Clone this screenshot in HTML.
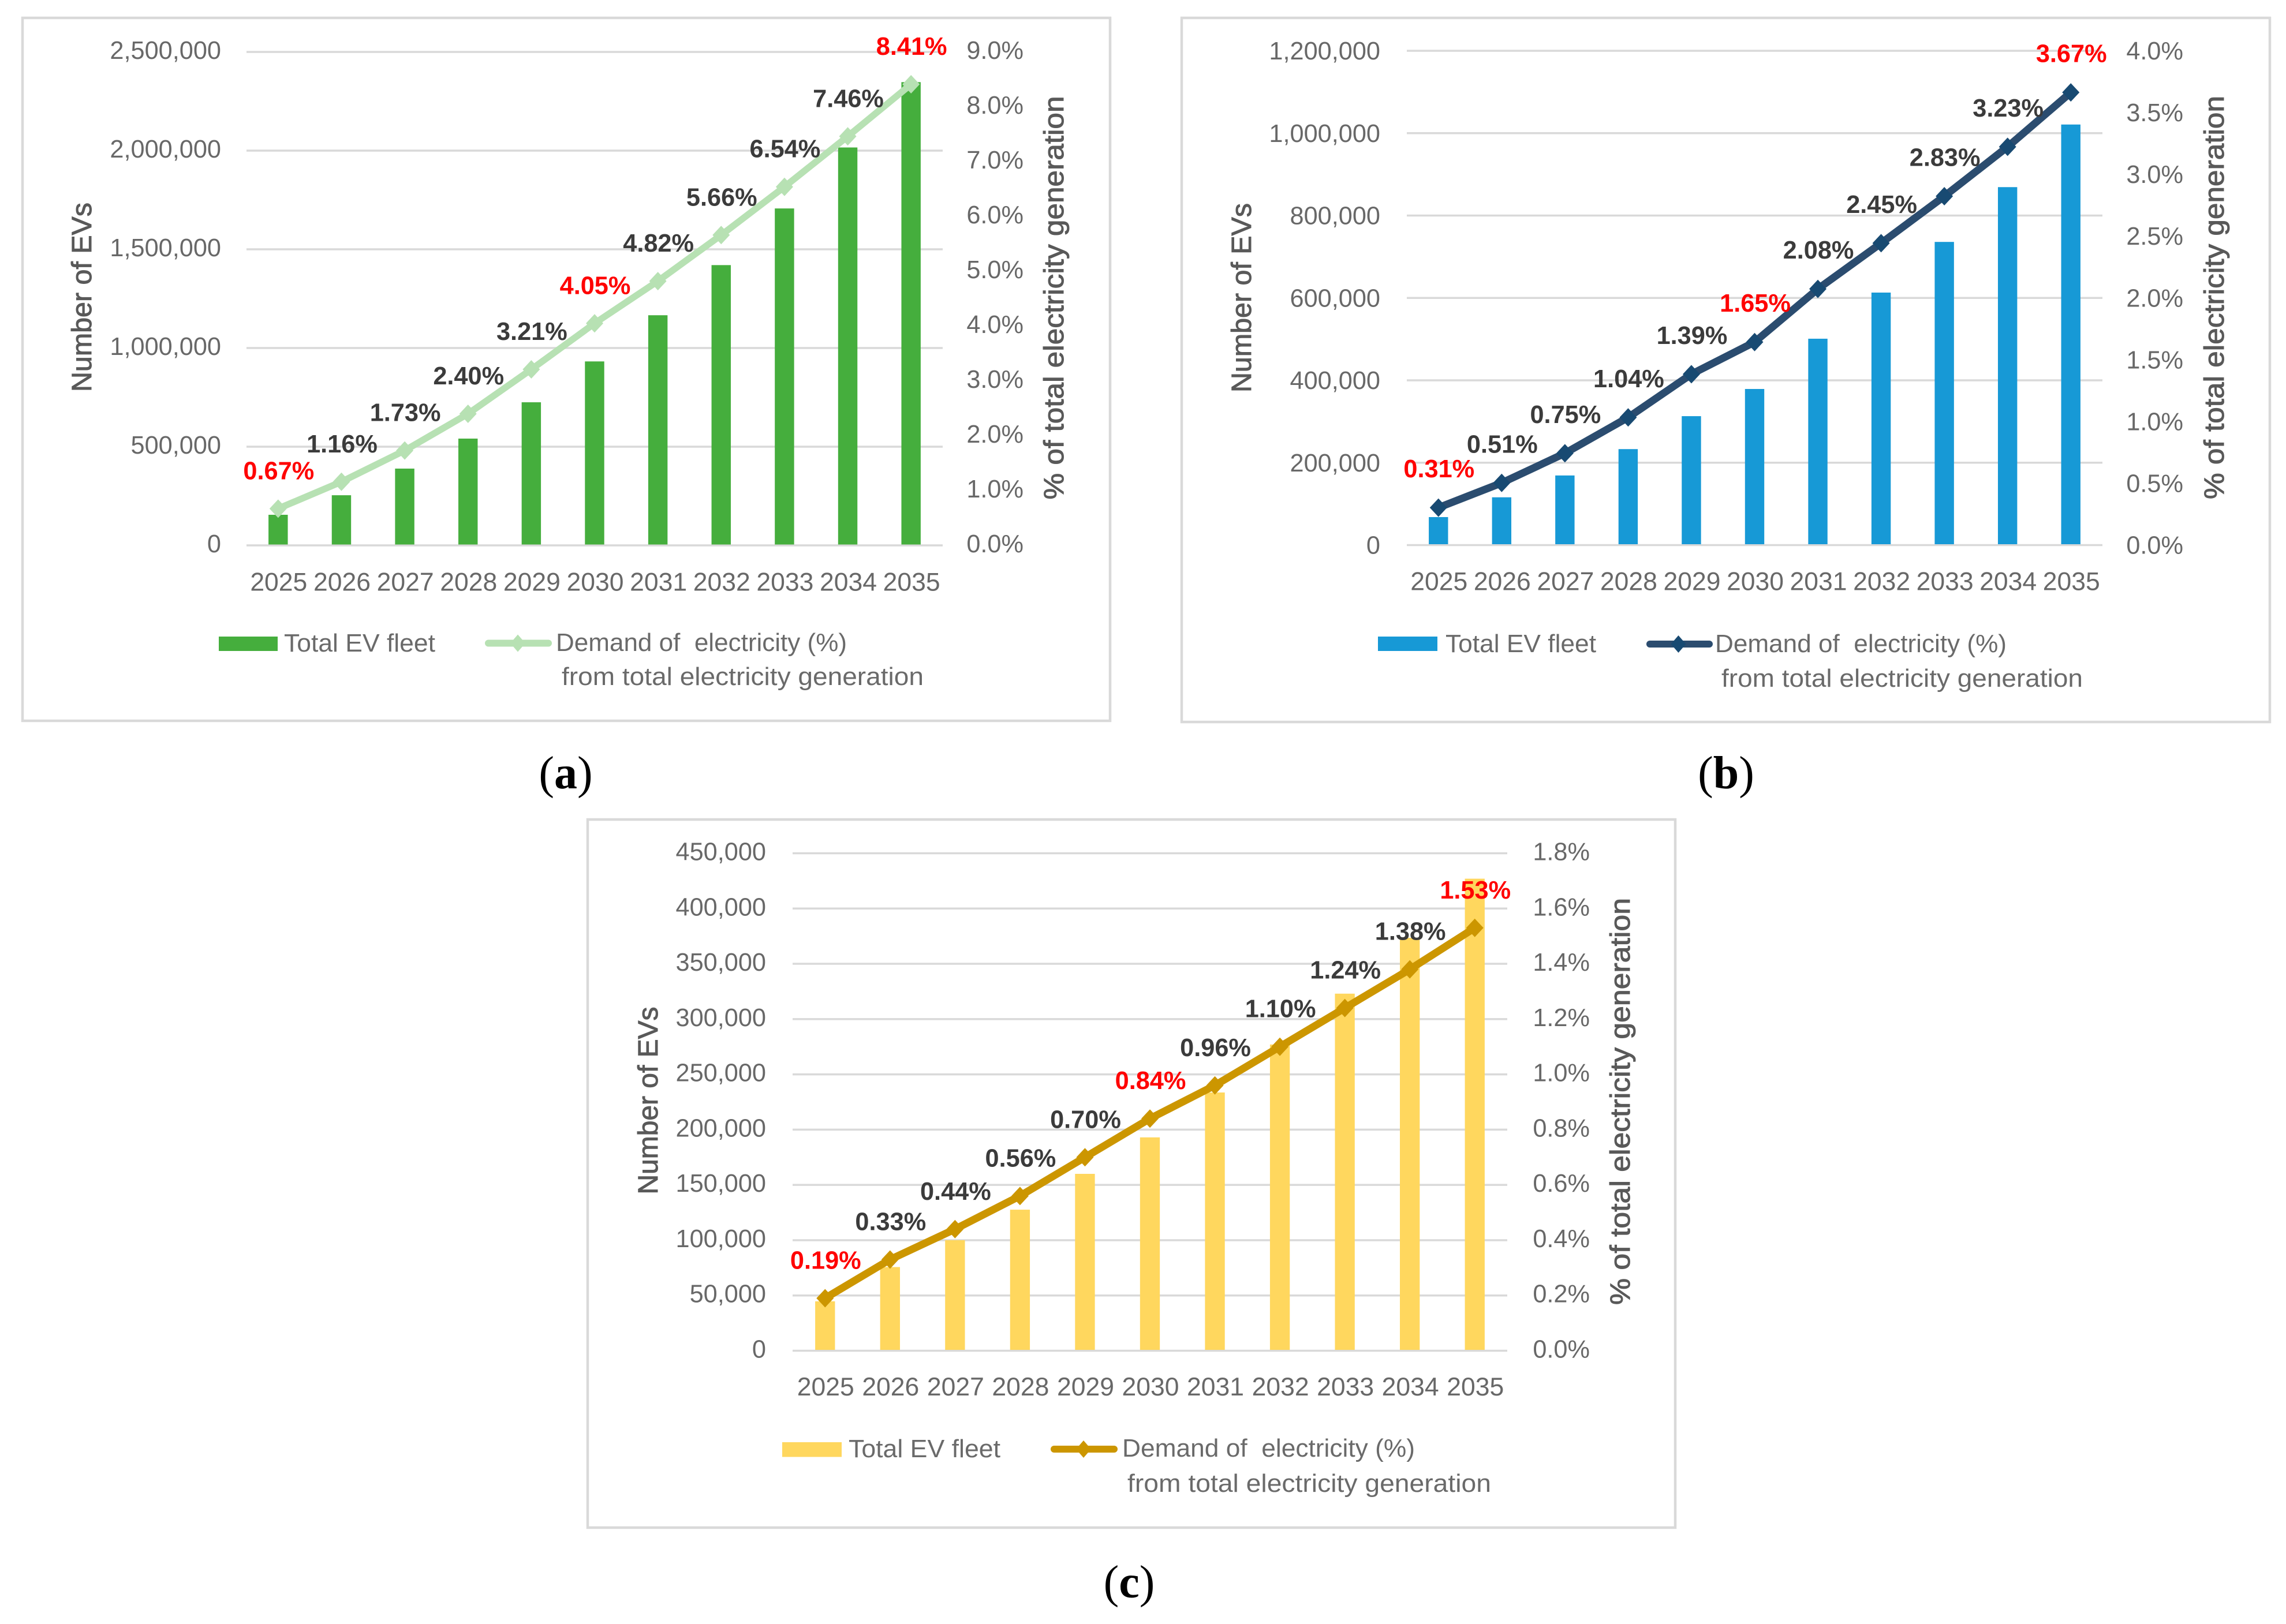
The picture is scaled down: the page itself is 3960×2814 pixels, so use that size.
<!DOCTYPE html>
<html lang="en">
<head>
<meta charset="utf-8">
<title>EV fleet and electricity demand scenarios</title>
<style>
html,body{margin:0;padding:0;background:#fff;}
svg{display:block;}
text{font-family:"Liberation Sans",sans-serif;}
.tick{font-size:43.3px;fill:#686868;}
.tick.year{font-size:44.5px;}
.data{font-size:43.3px;font-weight:bold;fill:#3b3b3b;}
.data.hot{fill:#ff0000;}
.title{font-size:48px;fill:#595959;stroke:#595959;stroke-width:1px;}
.legend{font-size:43.3px;fill:#6a6a6a;white-space:pre;}
.caption{font-family:"Liberation Serif",serif;font-size:80px;fill:#000;}
.caption tspan{font-weight:bold;}
.frame{fill:#fff;stroke:#d9d9d9;stroke-width:4.5;}
</style>
</head>
<body>
<svg id="figure" xmlns="http://www.w3.org/2000/svg" width="3960" height="2814" viewBox="0 0 3960 2814">
  <rect x="0" y="0" width="3960" height="2814" fill="#fff"/>

  <g id="panel-a">
    <rect class="frame" x="39" y="31" width="1884" height="1218"/>
    <g id="plot-a"></g>
    <text class="title" transform="translate(158,515) rotate(-90)" text-anchor="middle" textLength="328" lengthAdjust="spacingAndGlyphs">Number of EVs</text>
    <text class="title" transform="translate(1842,516) rotate(-90)" text-anchor="middle" textLength="699" lengthAdjust="spacingAndGlyphs">% of total electricity generation</text>
    <rect x="379" y="1103" width="102" height="25" fill="#45ae3d"/>
    <text class="legend" x="492" y="1129" textLength="262" lengthAdjust="spacingAndGlyphs">Total EV fleet</text>
    <line x1="846" y1="1114.5" x2="950" y2="1114.5" stroke="#b7e1b3" stroke-width="12" stroke-linecap="round"/>
    <polygon points="884,1114.5 897,1099.5 910,1114.5 897,1129.5" fill="#b7e1b3"/>
    <text class="legend" x="963" y="1128" textLength="504" lengthAdjust="spacingAndGlyphs" xml:space="preserve">Demand of  electricity (%)</text>
    <text class="legend" x="973" y="1187" textLength="627" lengthAdjust="spacingAndGlyphs">from total electricity generation</text>
  </g>
  <text class="caption" x="980" y="1366" text-anchor="middle">(<tspan>a</tspan>)</text>

  <g id="panel-b">
    <rect class="frame" x="2047" y="31" width="1885" height="1220"/>
    <g id="plot-b"></g>
    <text class="title" transform="translate(2167,516) rotate(-90)" text-anchor="middle" textLength="328" lengthAdjust="spacingAndGlyphs">Number of EVs</text>
    <text class="title" transform="translate(3852,515.5) rotate(-90)" text-anchor="middle" textLength="699" lengthAdjust="spacingAndGlyphs">% of total electricity generation</text>
    <rect x="2387" y="1103" width="103" height="25" fill="#1799d6"/>
    <text class="legend" x="2504" y="1130" textLength="261" lengthAdjust="spacingAndGlyphs">Total EV fleet</text>
    <line x1="2858" y1="1116" x2="2961" y2="1116" stroke="#2b4c6f" stroke-width="12" stroke-linecap="round"/>
    <polygon points="2894.5,1116 2907.5,1101 2920.5,1116 2907.5,1131" fill="#184a72"/>
    <text class="legend" x="2971" y="1130" textLength="505" lengthAdjust="spacingAndGlyphs" xml:space="preserve">Demand of  electricity (%)</text>
    <text class="legend" x="2982" y="1190" textLength="626" lengthAdjust="spacingAndGlyphs">from total electricity generation</text>
  </g>
  <text class="caption" x="2990" y="1366" text-anchor="middle">(<tspan>b</tspan>)</text>

  <g id="panel-c">
    <rect class="frame" x="1018" y="1420" width="1884" height="1227"/>
    <g id="plot-c"></g>
    <text class="title" transform="translate(1139,1907) rotate(-90)" text-anchor="middle" textLength="325" lengthAdjust="spacingAndGlyphs">Number of EVs</text>
    <text class="title" transform="translate(2823,1908.5) rotate(-90)" text-anchor="middle" textLength="705" lengthAdjust="spacingAndGlyphs">% of total electricity generation</text>
    <rect x="1355" y="2499" width="103" height="25.5" fill="#ffd75e"/>
    <text class="legend" x="1470" y="2525" textLength="263" lengthAdjust="spacingAndGlyphs">Total EV fleet</text>
    <line x1="1826" y1="2511" x2="1930" y2="2511" stroke="#cc9600" stroke-width="12" stroke-linecap="round"/>
    <polygon points="1864,2511 1877,2496 1890,2511 1877,2526" fill="#cc9600"/>
    <text class="legend" x="1944" y="2524" textLength="507" lengthAdjust="spacingAndGlyphs" xml:space="preserve">Demand of  electricity (%)</text>
    <text class="legend" x="1953" y="2585" textLength="630" lengthAdjust="spacingAndGlyphs">from total electricity generation</text>
  </g>
  <text class="caption" x="1956" y="2768" text-anchor="middle">(<tspan>c</tspan>)</text>
</svg>

<script>
const categories = [2025, 2026, 2027, 2028, 2029, 2030, 2031, 2032, 2033, 2034, 2035];
const highlightedYears = [2025, 2030, 2035];

const fleetA = [155000, 254000, 389000, 541000, 725000, 932000, 1166000, 1420000, 1707000, 2016000, 2347000];
const demandA = [0.67, 1.16, 1.73, 2.40, 3.21, 4.05, 4.82, 5.66, 6.54, 7.46, 8.41];
const leftTicksA = [0, 500000, 1000000, 1500000, 2000000, 2500000];
const rightTicksA = [0, 1, 2, 3, 4, 5, 6, 7, 8, 9];

const fleetB = [68000, 116000, 169000, 233000, 313000, 379000, 501000, 613000, 736000, 869000, 1021000];
const demandB = [0.31, 0.51, 0.75, 1.04, 1.39, 1.65, 2.08, 2.45, 2.83, 3.23, 3.67];
const leftTicksB = [0, 200000, 400000, 600000, 800000, 1000000, 1200000];
const rightTicksB = [0, 0.5, 1, 1.5, 2, 2.5, 3, 3.5, 4];

const fleetC = [44700, 75700, 100000, 127600, 160000, 193000, 233600, 277000, 323000, 373500, 427000];
const demandC = [0.19, 0.33, 0.44, 0.56, 0.70, 0.84, 0.96, 1.10, 1.24, 1.38, 1.53];
const leftTicksC = [0, 50000, 100000, 150000, 200000, 250000, 300000, 350000, 400000, 450000];
const rightTicksC = [0, 0.2, 0.4, 0.6, 0.8, 1, 1.2, 1.4, 1.6, 1.8];

const SVG_NS = 'http://www.w3.org/2000/svg';

function make(parent, tag, attrs, content) {
  const el = document.createElementNS(SVG_NS, tag);
  Object.keys(attrs).forEach(function (k) { el.setAttribute(k, attrs[k]); });
  if (content !== undefined) el.textContent = content;
  parent.appendChild(el);
  return el;
}

function drawPanel(opt) {
  const root = document.getElementById(opt.target);
  const fleetMax = opt.leftTicks[opt.leftTicks.length - 1];
  const demandMax = opt.rightTicks[opt.rightTicks.length - 1];
  const band = (opt.x1 - opt.x0) / categories.length;

  function xAxis(i) { return opt.x0 + band * (i + 0.5); }
  function yLeft(v) { return opt.base - (v / fleetMax) * (opt.base - opt.top); }
  function yRight(v) { return opt.base - (v / demandMax) * (opt.base - opt.top); }
  function yLine(v) { return yRight(v) + opt.lineDy; }

  opt.leftTicks.forEach(function (t) {
    const g = make(root, 'line', { x1: opt.x0, x2: opt.x1, y1: yLeft(t), y2: yLeft(t), stroke: '#d9d9d9', 'stroke-width': 3.5 });
    
    
    const lab = make(root, 'text', { class: 'tick', x: opt.leftX, y: yLeft(t) + 15 + opt.tickDy, 'text-anchor': 'end' }, t.toLocaleString('en-US'));
    
    
  });

  opt.rightTicks.forEach(function (t) {
    const lab = make(root, 'text', { class: 'tick', x: opt.rightX, y: yRight(t) + 15 + opt.tickDy, 'text-anchor': 'end' }, t.toFixed(1) + '%');
    
    
  });

  categories.forEach(function (year, i) {
    const w = band * 0.305;
    const bar = make(root, 'rect', { x: xAxis(i) - w / 2, y: yLeft(opt.fleet[i]), width: w, height: opt.base - yLeft(opt.fleet[i]) - 1.5, fill: opt.barColor });
    
    
    const lab = make(root, 'text', { class: 'tick year', x: xAxis(i) + 1, y: opt.xLabelY, 'text-anchor': 'middle' }, String(year));
    
    
  });

  const pts = opt.demand.map(function (v, i) { return xAxis(i) + ',' + yLine(v); }).join(' ');
  const line = make(root, 'polyline', { points: pts, fill: 'none', stroke: opt.lineColor, 'stroke-width': opt.lineWidth, 'stroke-linejoin': 'round', 'stroke-linecap': 'round' });
  
  

  opt.demand.forEach(function (v, i) {
    const cx = xAxis(i), cy = yLine(v);
    const marker = make(root, 'polygon', {
      points: (cx - 15) + ',' + cy + ' ' + cx + ',' + (cy - 16) + ' ' + (cx + 15) + ',' + cy + ' ' + cx + ',' + (cy + 16),
      fill: opt.markerColor
    });
    
    
  });

  opt.demand.forEach(function (v, i) {
    const hot = highlightedYears.indexOf(categories[i]) >= 0;
    const lab = make(root, 'text', {
      class: hot ? 'data hot' : 'data',
      x: xAxis(i) + 1,
      y: yRight(v) - 51,
      'text-anchor': 'middle'
    }, v.toFixed(2) + '%');
    
    
  });
}

drawPanel({
  target: 'plot-a', fleet: fleetA, demand: demandA, leftTicks: leftTicksA, rightTicks: rightTicksA,
  x0: 427, x1: 1633, top: 90, base: 945, leftX: 383, rightX: 1773, tickDy: -3, xLabelY: 1023.5,
  lineDy: 0, lineWidth: 11.5,
  barColor: '#45ae3d', lineColor: '#b7e1b3', markerColor: '#b7e1b3'
});
drawPanel({
  target: 'plot-b', fleet: fleetB, demand: demandB, leftTicks: leftTicksB, rightTicks: rightTicksB,
  x0: 2437, x1: 3642, top: 88, base: 944.5, leftX: 2391, rightX: 3782, tickDy: 0, xLabelY: 1022.5,
  lineDy: 1.5, lineWidth: 13,
  barColor: '#1799d6', lineColor: '#2b4c6f', markerColor: '#184a72'
});
drawPanel({
  target: 'plot-c', fleet: fleetC, demand: demandC, leftTicks: leftTicksC, rightTicks: rightTicksC,
  x0: 1373, x1: 2611, top: 1478.5, base: 2340.5, leftX: 1327, rightX: 2754, tickDy: -3, xLabelY: 2418,
  lineDy: 0, lineWidth: 13,
  barColor: '#ffd75e', lineColor: '#cc9600', markerColor: '#cc9600'
});
</script>
</body>
</html>
